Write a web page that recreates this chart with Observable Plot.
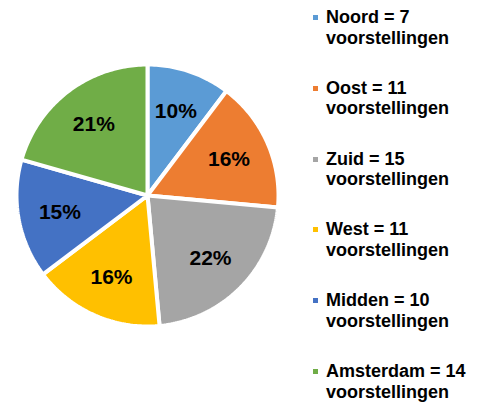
<!DOCTYPE html>
<html>
<head>
<meta charset="utf-8">
<script src="https://cdn.jsdelivr.net/npm/d3@7"></script>
<script src="https://cdn.jsdelivr.net/npm/@observablehq/plot@0.6"></script>
<style>
  body { margin: 0; background: #fff; }
  #wrap { position: relative; width: 486px; height: 403px; font-family: "Liberation Sans", Arial, sans-serif; }
  #wrap svg { position: absolute; left: 0; top: 0; }
  .leg { position: absolute; left: 326px; font-weight: bold; font-size: 18px; line-height: 20.5px; color: #000; white-space: nowrap; }
  .mk { position: absolute; left: 313px; width: 5px; height: 5px; }
</style>
</head>
<body>
<div id="wrap"></div>
<script>
const names = ["Noord", "Oost", "Zuid", "West", "Midden", "Amsterdam"];
const values = [7, 11, 15, 11, 10, 14];
const colors = ["#5B9BD5", "#ED7D31", "#A5A5A5", "#FFC000", "#4472C4", "#70AD47"];
const unit = "voorstellingen";

const data = names.map((n, i) => ({name: n, value: values[i]}));
const total = d3.sum(values);
const arcs = d3.pie().sort(null).value(d => d.value)(data);

// polygon points for each slice in unit-circle coordinates
const pts = [];
arcs.forEach(a => {
  const n = a.data.name;
  pts.push({name: n, x: 0, y: 0});
  const steps = Math.max(2, Math.ceil((a.endAngle - a.startAngle) / (Math.PI / 180)));
  for (let k = 0; k <= steps; k++) {
    const t = a.startAngle + (a.endAngle - a.startAngle) * k / steps;
    pts.push({name: n, x: Math.sin(t), y: Math.cos(t)});
  }
  pts.push({name: n, x: 0, y: 0});
});

const labels = arcs.map(a => {
  const t = (a.startAngle + a.endAngle) / 2;
  const r = 0.68;
  return {name: a.data.name, x: r * Math.sin(t), y: r * Math.cos(t),
          text: Math.round(a.data.value / total * 100) + "%"};
});

const cx = 147, cy = 195, R = 131;

const chart = Plot.plot({
  width: 486,
  height: 403,
  margin: 0,
  x: {domain: [-1, 1], range: [cx - R, cx + R], axis: null},
  y: {domain: [-1, 1], range: [cy + R, cy - R], axis: null},
  color: {domain: names, range: colors},
  marks: [
    Plot.line(pts, {x: "x", y: "y", z: "name", fill: "name", stroke: "white", strokeWidth: 4, strokeLinejoin: "miter", curve: "linear"}),
    Plot.text(labels, {x: "x", y: "y", text: "text", fontSize: 21, fontWeight: "bold", fill: "black", fontFamily: "Liberation Sans, Arial, sans-serif"})
  ]
});

const wrap = document.getElementById("wrap");
wrap.appendChild(chart);

const top0 = 7, step = 70.8;
names.forEach((n, i) => {
  const d = document.createElement("div");
  d.className = "leg";
  d.style.top = (top0 + i * step) + "px";
  d.innerHTML = `${n} = ${values[i]}<br>${unit}`;
  wrap.appendChild(d);
  const m = document.createElement("div");
  m.className = "mk";
  m.style.top = (top0 + i * step + 8) + "px";
  m.style.background = colors[i];
  wrap.appendChild(m);
});
</script>
</body>
</html>
